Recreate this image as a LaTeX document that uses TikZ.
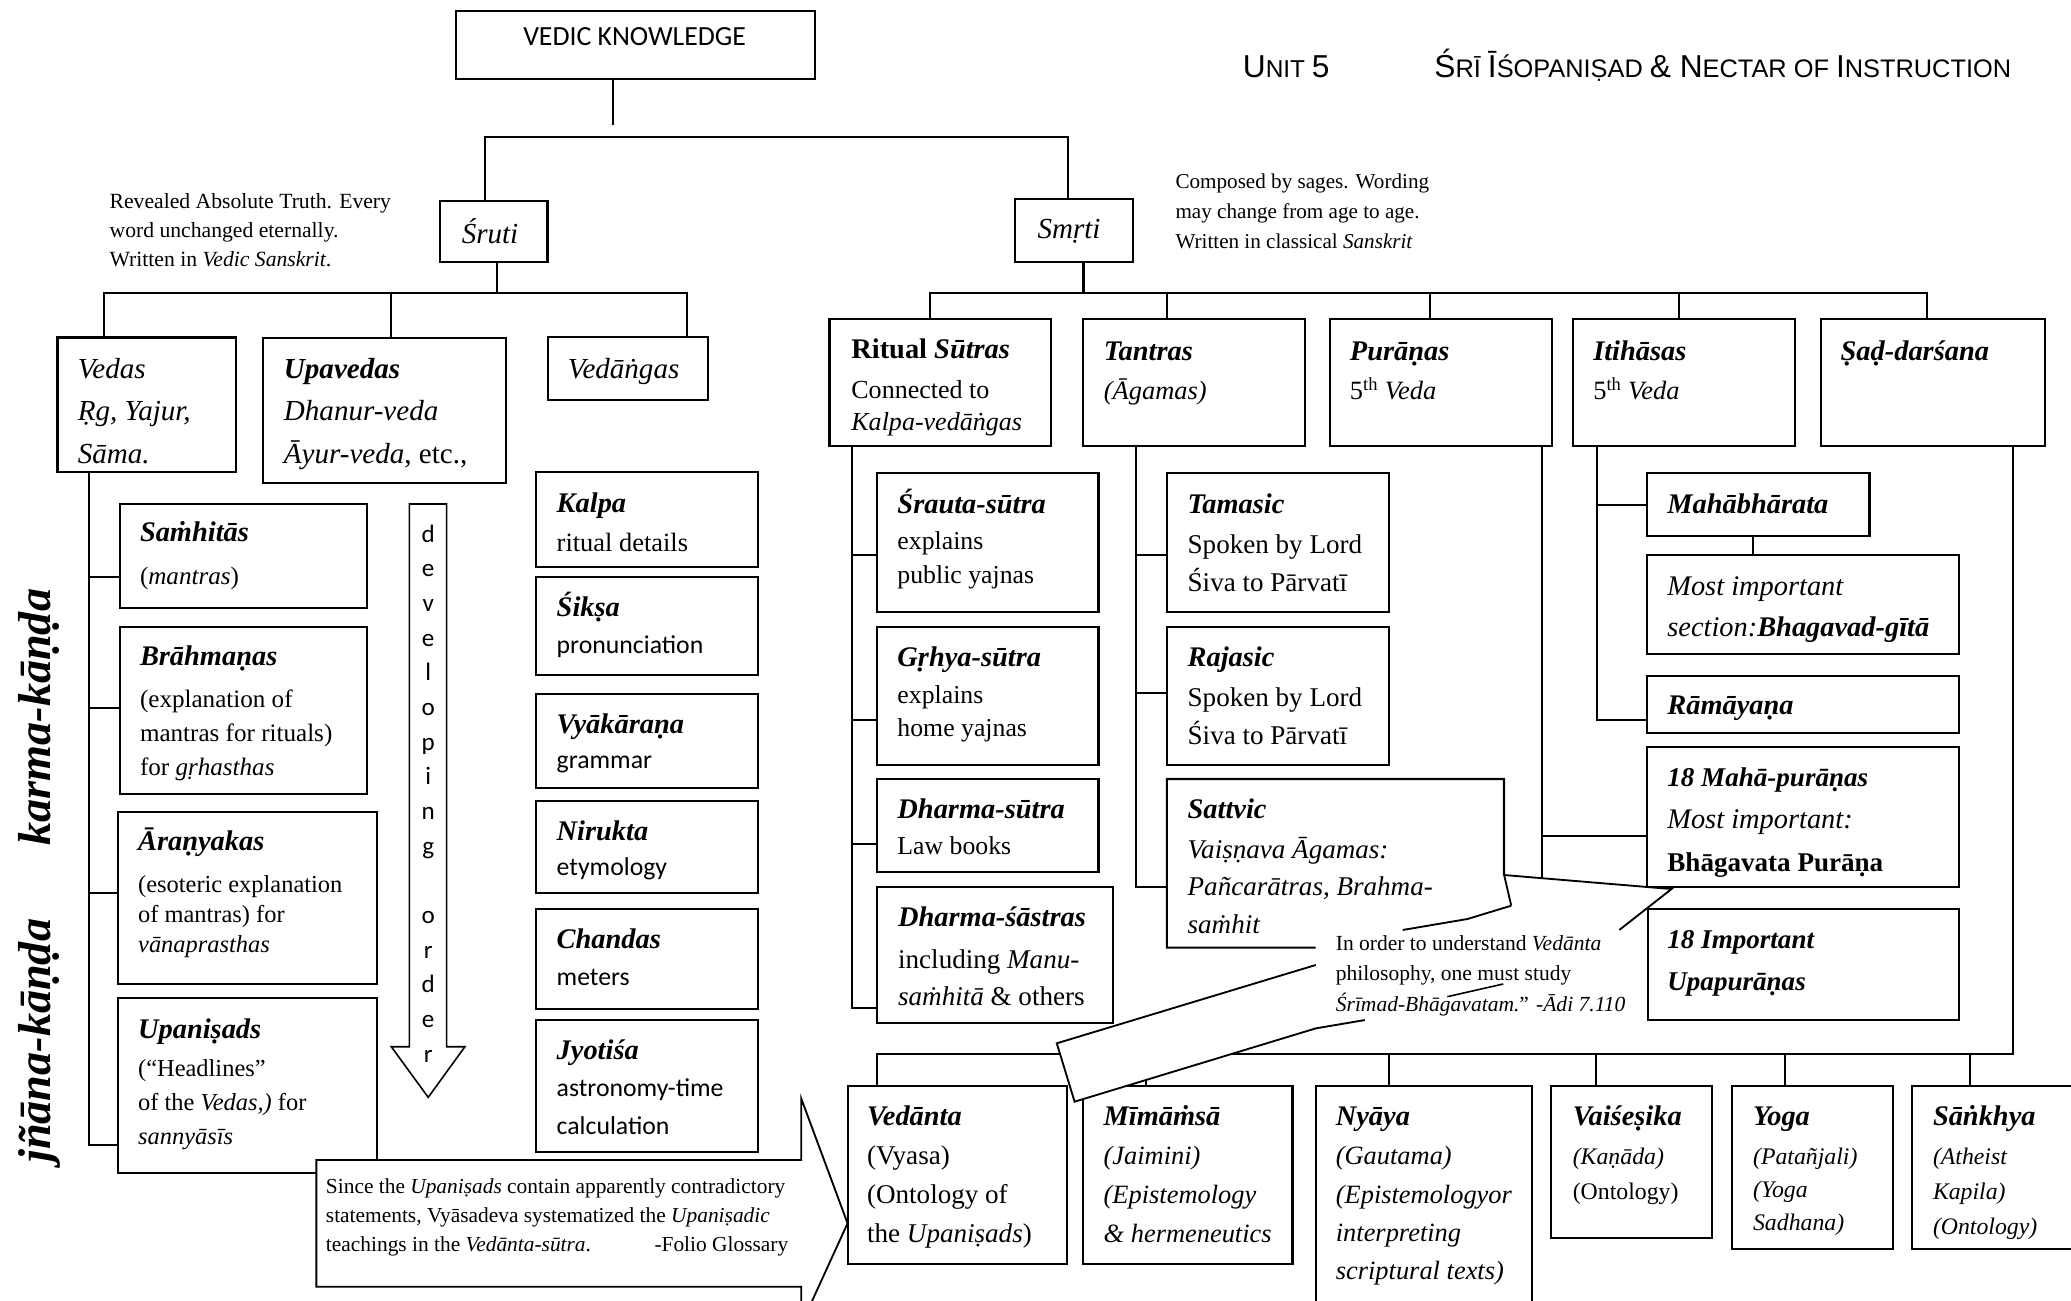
\documentclass[tikz,border=0pt]{standalone}
\usepackage{fontspec}
\setmainfont{Liberation Serif}
\newfontfamily\calib{Carlito}
\newfontfamily\hdr{Liberation Sans}
\newcommand\FS[1]{\fontsize{#1}{#1}\selectfont}
\newcommand\TitF{\FS{21.5}\bfseries\itshape}
\newcommand\Ln[1]{\hbox{#1}}
\newcommand\Bx[5]{\node[bx, minimum width={#4-#2}, minimum height={#5-#3}] (#1) at (#2,#3) {};}
\newcommand\Tx[6]{\node[tx, font={#4}] (#1) at (#2,#3) {\vtop{\baselineskip=#5pt\lineskiplimit=-1000pt\relax #6}};}
\tikzset{
  bx/.style={draw, line width=1.6pt, inner sep=0pt, outer sep=0pt, anchor=north west, fill=white},
  ln/.style={line width=1.6pt},
  tx/.style={inner sep=0pt, outer sep=0pt, anchor=base west},
}
\begin{document}
\begin{tikzpicture}[x=1pt,y=-1pt]
\useasboundingbox (0,0) rectangle (1568,985);
\fill[white] (0,0) rectangle (1568,985);
\begin{scope}
\clip (0,0) rectangle (1568,985);
% ---------- boxes ----------
\Bx{vk}{345}{8}{617}{60}
\Bx{sruti}{333}{152.5}{414.5}{198.5}
\Bx{smrti}{768.5}{150.7}{858}{198.4}
\Bx{vedas}{43.5}{255.5}{178.7}{357.4}
\Bx{upav}{199.3}{255.7}{383.4}{366}
\Bx{vedang}{415}{255.4}{536}{303}
\Bx{samh}{90.8}{381.8}{278}{460}
\Bx{brah}{90.8}{474.5}{278}{601.4}
\Bx{aran}{89.4}{614.5}{285.2}{745.3}
\Bx{upan}{89.4}{755.9}{285.2}{888.4}
\Bx{kalpa}{405.6}{357.1}{573.6}{429}
\Bx{siksa}{405.6}{436.6}{573.6}{511}
\Bx{vyak}{405.6}{525.4}{573.6}{596.9}
\Bx{nir}{405.6}{606.2}{573.6}{676.4}
\Bx{chan}{405.6}{688.5}{573.6}{764.2}
\Bx{jyot}{405.6}{772.3}{573.6}{872}
\Bx{ritual}{628}{241.7}{796}{337.7}
\Bx{tantra}{819.7}{241.8}{988}{337.7}
\Bx{purana}{1007}{241.8}{1175}{337.7}
\Bx{itih}{1191}{241.8}{1359}{337.7}
\Bx{sad}{1379}{241.8}{1548}{337.7}
\Bx{srauta}{663.8}{358.4}{831.7}{463.1}
\Bx{grhya}{663.8}{475}{831.7}{579.2}
\Bx{dsutra}{663.8}{589.8}{831.7}{660}
\Bx{dsastra}{663.9}{671.8}{842.4}{774.8}
\Bx{tamas}{883.5}{358.4}{1051.4}{463.1}
\Bx{rajas}{883.5}{475}{1051.4}{579.2}
\node[bx, draw=none, minimum width=255.2, minimum height=127.7] (sattv) at (883.5,589.8) {};
\draw[ln] (996,717.5) -- (sattv.south west) -- (sattv.north west) -- (sattv.north east) -- (1138.7,662.5);
\Bx{mahab}{1247.1}{358.4}{1415.4}{405.8}
\Bx{mostimp}{1247.1}{420.4}{1483.3}{495.2}
\Bx{ramay}{1247.1}{511.6}{1483.3}{555.2}
\Bx{mahap}{1247.1}{565.8}{1483.3}{671.3}
\Bx{upap}{1247.7}{688.2}{1483.3}{772.3}
\Bx{vedanta}{642}{822}{808}{957.2}
\Bx{mima}{819.7}{822}{978.6}{957.2}
\Bx{nyaya}{996.2}{822}{1159.7}{995}
\Bx{vais}{1174.6}{822.2}{1296.5}{937.1}
\Bx{yoga}{1311.2}{822.2}{1433}{945.7}
\Bx{sankh}{1447.3}{822.2}{1580}{945.7}
% ---------- connectors ----------
\draw[ln] (vk.south -| 464,0) -- (464,95);
\draw[ln] (sruti.north -| 367,0) -- (367,103.5) -- (808.4,103.5) -- (smrti.north -| 808.4,0);
\draw[ln] (sruti.south -| 376,0) -- (376,221.6);
\draw[ln] (vedas.north -| 78.7,0) -- (78.7,221.6) -- (520,221.6) -- (vedang.north -| 520,0);
\draw[ln] (296,221.6) -- (upav.north -| 296,0);
\draw[ln] (vedas.south -| 67.3,0) -- (67.3,867) -- (upan.west |- 0,867);
\draw[ln] (67.3,436.6) -- (samh.west |- 0,436.6);
\draw[ln] (67.3,536.3) -- (brah.west |- 0,536.3);
\draw[ln] (67.3,676.4) -- (aran.west |- 0,676.4);
\draw[ln] (smrti.south -| 820.3,0) -- (820.3,221.6);
\draw[ln] (ritual.north -| 704,0) -- (704,221.6) -- (1459,221.6) -- (sad.north -| 1459,0);
\draw[ln] (883.5,221.6) -- (tantra.north -| 883.5,0);
\draw[ln] (1082.6,221.6) -- (purana.north -| 1082.6,0);
\draw[ln] (1271.5,221.6) -- (itih.north -| 1271.5,0);
\draw[ln] (ritual.south -| 645,0) -- (645,763.4) -- (dsastra.west |- 0,763.4);
\draw[ln] (645,420.2) -- (srauta.west |- 0,420.2);
\draw[ln] (645,545) -- (grhya.west |- 0,545);
\draw[ln] (645,639.3) -- (dsutra.west |- 0,639.3);
\draw[ln] (tantra.south -| 860,0) -- (860,671.3) -- (sattv.west |- 0,671.3);
\draw[ln] (860,420.2) -- (tamas.west |- 0,420.2);
\draw[ln] (860,525) -- (rajas.west |- 0,525);
\draw[ln] (purana.south -| 1167.5,0) -- (1167.5,665);
\draw[ln] (1167.5,632.7) -- (mahap.west |- 0,632.7);
\draw[ln] (itih.south -| 1209,0) -- (1209,545.1) -- (ramay.west |- 0,545.1);
\draw[ln] (1209,382.3) -- (mahab.west |- 0,382.3);
\draw[ln] (mahab.south -| 1327.3,0) -- (mostimp.north -| 1327.3,0);
\draw[ln] (sad.south -| 1524.4,0) -- (1524.4,798.2) -- (663.9,798.2) -- (vedanta.north -| 663.9,0);
\draw[ln] (867.7,798.2) -- (mima.north -| 867.7,0);
\draw[ln] (1051.3,798.2) -- (nyaya.north -| 1051.3,0);
\draw[ln] (1208.5,798.2) -- (vais.north -| 1208.5,0);
\draw[ln] (1351.4,798.2) -- (yoga.north -| 1351.4,0);
\draw[ln] (1491.8,798.2) -- (sankh.north -| 1491.8,0);
% ---------- developing order arrow ----------
\draw[line width=1.2pt, fill=white] (310,381.6) -- (338.2,381.6) -- (338.2,792.5) -- (352,792.5) -- (324.2,830.8) -- (296.3,792.5) -- (310,792.5) -- cycle;
\node[tx, anchor=base] (devord) at (324.2,410.5) {\calib\FS{19}\vtop{\baselineskip=26.25pt\lineskiplimit=-1000pt\relax
 \hbox to 0pt{\hss d\hss}\hbox to 0pt{\hss e\hss}\hbox to 0pt{\hss v\hss}\hbox to 0pt{\hss e\hss}\hbox to 0pt{\hss l\hss}\hbox to 0pt{\hss o\hss}\hbox to 0pt{\hss p\hss}\hbox to 0pt{\hss i\hss}\hbox to 0pt{\hss n\hss}\hbox to 0pt{\hss g\hss}\hbox{}\hbox to 0pt{\hss o\hss}\hbox to 0pt{\hss r\hss}\hbox to 0pt{\hss d\hss}\hbox to 0pt{\hss e\hss}\hbox to 0pt{\hss r\hss}}};
% ---------- callouts ----------
\filldraw[line width=1.4pt, fill=white] (239.5,878.3) -- (606.6,878.3) -- (606.6,831.6) -- (641.7,926.2) -- (606.6,1003) -- (606.6,974.2) -- (239.5,974.2) -- cycle;
\fill[white] (996.2,730.6) -- (800.1,789.9) -- (813.6,834.1) -- (996.2,778.6) -- (1033.3,772.3) -- (1040,735) -- cycle;
\draw[line width=1.4pt] (996.2,730.6) -- (800.1,789.9) -- (813.6,834.1) -- (996.2,778.6) -- (1033.3,772.3);
\fill[white] (1144.2,685.7) -- (1138.8,662.5) -- (1265.5,673.1) -- (1226,704.1) -- (1062,704.1) -- (1111,695.8) -- cycle;
\draw[line width=1.4pt] (1144.2,685.7) -- (1138.8,662.5) -- (1265.5,673.1) -- (1226,704.1);
\draw[line width=1.4pt] (1144.2,685.7) -- (1111,695.8) -- (1062,704.1);
% ---------- texts ----------
\node[tx, anchor=base] (vkt) at (480.5,34.1) {\calib\FS{21}VEDIC KNOWLEDGE};
\node[tx] (unit) at (941,58.5) {\hdr\FS{24}U\FS{18.5}NIT \FS{24}5};
\node[tx] (htitle) at (1086,58.5) {\hdr\FS{24}Ś\FS{19.2}RĪ \FS{24}Ī\FS{19.2}ŚOPANIṢAD \FS{24}\& N\FS{19.2}ECTAR OF \FS{24}I\FS{19.2}NSTRUCTION};
\Tx{annL}{83}{157.7}{\FS{16.4}}{22.1}{\Ln{Revealed Absolute Truth. Every}\Ln{word unchanged eternally.}\Ln{Written in \textit{Vedic Sanskrit}.}}
\Tx{annR}{890}{142.6}{\FS{16}}{22.7}{\Ln{Composed by sages. Wording}\Ln{may change from age to age.}\Ln{Written in classical \textit{Sanskrit}}}
\node[tx, anchor=base] (srutit) at (371,184.2) {\FS{22}\itshape Śruti};
\node[tx, anchor=base] (smrtit) at (809.4,180.5) {\FS{22}\itshape Smṛti};
\Tx{vedast}{59}{286.4}{\FS{22}\itshape}{32.2}{\Ln{Vedas}\Ln{Ṛg, Yajur,}\Ln{Sāma.}}
\Tx{upavt}{215}{286.4}{\FS{22}}{32.2}{\Ln{\bfseries\itshape Upavedas}\Ln{\itshape Dhanur-veda}\Ln{\textit{Āyur-veda}, etc.,}}
\node[tx] (vedangt) at (430,286.4) {\FS{22}\itshape Vedāṅgas};
% left column
\node[tx, font=\TitF] (samht) at (106,410.1) {Saṁhitās};
\node[tx, font=\FS{19}] (samhb) at (106,442.2) {(\textit{mantras})};
\node[tx, font=\TitF] (braht) at (106,504.2) {Brāhmaṇas};
\Tx{brahb}{106}{535.5}{\FS{19}}{26}{\Ln{(explanation of}\Ln{mantras for rituals)}\Ln{for \textit{gṛhasthas}}}
\node[tx, font=\TitF] (arant) at (104.6,643.6) {Āraṇyakas};
\Tx{aranb}{104.6}{675.9}{\FS{18.5}}{22.7}{\Ln{(esoteric explanation}\Ln{of mantras) for}\Ln{\textit{vānaprasthas}}}
\node[tx, font=\TitF] (upant) at (104.6,786.1) {Upaniṣads};
\Tx{upanb}{104.6}{815.2}{\FS{18.5}}{25.8}{\Ln{(“Headlines”}\Ln{of the \textit{Vedas,)} for}\Ln{\textit{sannyāsīs}}}
% vedanga column
\node[tx, font=\TitF] (kalpat) at (421.5,388.2) {Kalpa};
\node[tx, font=\FS{20}] (kalpab) at (421.5,417.7) {ritual details};
\node[tx, font=\TitF] (siksat) at (421.5,466.9) {Śikṣa};
\node[tx, font=\calib\FS{19.5}] (siksab) at (421.5,494.6) {pronunciation};
\node[tx, font=\TitF] (vyakt) at (421.5,555.2) {Vyākāraṇa};
\node[tx, font=\calib\FS{19.5}] (vyakb) at (421.5,581.7) {grammar};
\node[tx, font=\TitF] (nirt) at (421.5,636) {Nirukta};
\node[tx, font=\calib\FS{19.5}] (nirb) at (421.5,662.5) {etymology};
\node[tx, font=\TitF] (chant) at (421.5,718) {Chandas};
\node[tx, font=\calib\FS{19.5}] (chanb) at (421.5,746.5) {meters};
\node[tx, font=\TitF] (jyott) at (421.5,802.5) {Jyotiśa};
\Tx{jyotb}{421.5}{830.3}{\calib\FS{19.5}}{28.3}{\Ln{astronomy-time}\Ln{calculation}}
% smrti row
\node[tx, font=\FS{21.5}\bfseries] (ritualt) at (644.6,271.3) {Ritual \textit{Sūtras}};
\Tx{ritualb}{644.6}{301.6}{\FS{19.7}}{24}{\Ln{Connected to}\Ln{\textit{Kalpa-vedāṅgas}}}
\node[tx, font=\TitF] (tantrat) at (835.8,272.6) {Tantras};
\node[tx, font=\FS{20}\itshape] (tantrab) at (835.8,302.8) {(Āgamas)};
\node[tx, font=\TitF] (puranat) at (1022.1,272.6) {Purāṇas};
\node[tx, font=\FS{20}] (puranab) at (1022.1,302.8) {5\textsuperscript{th} \textit{Veda}};
\node[tx, font=\TitF] (itiht) at (1206.3,272.6) {Itihāsas};
\node[tx, font=\FS{20}] (itihb) at (1206.3,302.8) {5\textsuperscript{th} \textit{Veda}};
\node[tx, font=\TitF] (sadt) at (1393.6,272.6) {Ṣaḍ-darśana};
% ritual subtree
\node[tx, font=\TitF] (srautat) at (679.5,388.6) {Śrauta-sūtra};
\Tx{srautab}{679.5}{415.9}{\FS{19.5}}{25.7}{\Ln{explains}\Ln{public yajnas}}
\node[tx, font=\TitF] (grhyat) at (679.5,504.7) {Gṛhya-sūtra};
\Tx{grhyab}{679.5}{532.5}{\FS{19.5}}{25.3}{\Ln{explains}\Ln{home yajnas}}
\node[tx, font=\TitF] (dsutrat) at (679.5,619.6) {Dharma-sūtra};
\node[tx, font=\FS{19.5}] (dsutrab) at (679.5,647.3) {Law books};
\node[tx, font=\TitF] (dsastrat) at (680,701.6) {Dharma-śāstras};
\Tx{dsastrab}{680}{733.1}{\FS{20.5}}{27.8}{\Ln{including \textit{Manu-}}\Ln{\textit{saṁhitā} \& others}}
% tantra subtree
\node[tx, font=\TitF] (tamast) at (899.2,388.6) {Tamasic};
\Tx{tamasb}{899.2}{418.9}{\FS{20.5}}{29.1}{\Ln{Spoken by Lord}\Ln{Śiva to Pārvatī}}
\node[tx, font=\TitF] (rajast) at (899.2,504.7) {Rajasic};
\Tx{rajasb}{899.2}{535}{\FS{20.5}}{29}{\Ln{Spoken by Lord}\Ln{Śiva to Pārvatī}}
\node[tx, font=\TitF] (sattvt) at (899.2,619.6) {Sattvic};
\Tx{sattvb}{899.2}{649.8}{\FS{20.5}\itshape}{28.4}{\Ln{Vaiṣṇava Āgamas:}\Ln{Pañcarātras, Brahma-}\Ln{saṁhit}}
% itihasa subtree
\node[tx, font=\TitF] (mahabt) at (1262.4,388.6) {Mahābhārata};
\Tx{mostimpt}{1262.4}{450.5}{\FS{21.5}\itshape}{31.5}{\Ln{Most important}\Ln{section:\textbf{Bhagavad-gītā}}}
\node[tx, font=\TitF] (ramayt) at (1262.4,541.3) {Rāmāyaṇa};
\node[tx, font=\FS{20.5}\bfseries\itshape] (mahapt) at (1262.4,595.6) {18 Mahā-purāṇas};
\node[tx, font=\FS{21.5}\itshape] (mahapb) at (1262.4,627.1) {Most important:};
\node[tx, font=\FS{20.5}\bfseries] (mahapc) at (1262.4,659.5) {Bhāgavata Purāṇa};
\Tx{upapt}{1262.4}{718}{\FS{20.5}\bfseries\itshape}{31.6}{\Ln{18 Important}\Ln{Upapurāṇas}}
% darsana row
\node[tx, font=\TitF] (vedantat) at (656.5,851.8) {Vedānta};
\Tx{vedantab}{656.5}{882}{\FS{20.5}}{29.2}{\Ln{(Vyasa)}\Ln{(Ontology of}\Ln{the \textit{Upaniṣads})}}
\node[tx, font=\TitF] (mimat) at (835.6,851.8) {Mīmāṁsā};
\Tx{mimab}{835.6}{882}{\FS{20}\itshape}{29.2}{\Ln{(Jaimini)}\Ln{(Epistemology}\Ln{\& hermeneutics}}
\node[tx, font=\TitF] (nyayat) at (1011.4,851.8) {Nyāya};
\Tx{nyayab}{1011.4}{882}{\FS{20}\itshape}{29}{\Ln{(Gautama)}\Ln{(Epistemologyor}\Ln{interpreting}\Ln{scriptural texts)}}
\node[tx, font=\TitF] (vaist) at (1190.8,851.8) {Vaiśeṣika};
\Tx{vaisb}{1190.8}{881.3}{\FS{18}}{26.5}{\Ln{\textit{(Kaṇāda)}}\Ln{(Ontology)}}
\node[tx, font=\TitF] (yogat) at (1327.3,851.8) {Yoga};
\Tx{yogab}{1327.3}{881.3}{\FS{18}\itshape}{25.3}{\Ln{(Patañjali)}\Ln{(Yoga}\Ln{Sadhana)}}
\node[tx, font=\TitF] (sankht) at (1463.5,851.8) {Sāṅkhya};
\Tx{sankhb}{1463.5}{881.3}{\FS{18}\itshape}{26.7}{\Ln{(Atheist}\Ln{Kapila)}\Ln{(Ontology)}}
% callout texts
\Tx{sincet}{246.8}{903.5}{\FS{16.2}}{22.1}{\Ln{Since the \textit{Upaniṣads} contain apparently contradictory}\Ln{statements, Vyāsadeva systematized the \textit{Upaniṣadic}}\Ln{\hbox to 350pt{teachings in the \textit{Vedānta-sūtra}.\hfill -Folio Glossary}}}
\Tx{bhagt}{1011.4}{719.3}{\FS{16.3}}{23.4}{\Ln{In order to understand \textit{Vedānta}}\Ln{philosophy, one must study}\Ln{\textit{Śrīmad-Bhāgavatam.}” \textit{-Ādi 7.110}}}
\draw[line width=1.2pt] (1095.8,754.6) -- (1138.1,745);
% side labels
\node[tx, anchor=base, rotate=90, font=\FS{35}\bfseries\itshape] (karma) at (38,543) {karma-kāṇḍa};
\node[tx, anchor=base, rotate=90, font=\FS{35}\bfseries\itshape] (jnana) at (38,788) {jñāna-kāṇḍa};
\end{scope}
\end{tikzpicture}
\end{document}
